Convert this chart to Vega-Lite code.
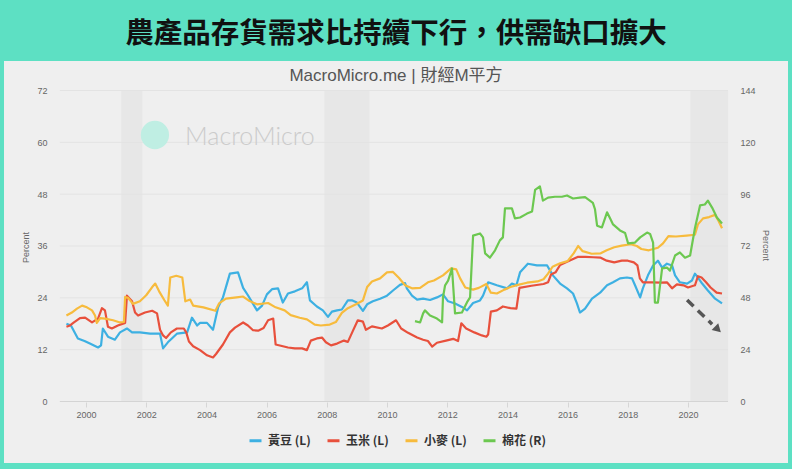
{
"$schema":"https://vega.github.io/schema/vega-lite/v6.json",
"width":784,"height":402,
"autosize":{"type":"none"},
"padding":{"left":4,"top":61,"right":4,"bottom":6},
"background":"#5de0c3",
"title":{"text":"農產品存貨需求比持續下行，供需缺口擴大","subtitle":"MacroMicro.me | 財經M平方","anchor":"middle","frame":"group","font":"Noto Sans CJK TC","fontSize":28.5,"fontWeight":"bold","color":"#111111","subtitleFont":"Liberation Sans, Noto Sans CJK TC","subtitleFontSize":17,"subtitleColor":"#555555","subtitlePadding":20,"offset":-23},
"config":{
 "view":{"fill":"#efefef","stroke":null},
 "font":"Liberation Sans",
 "axis":{"grid":false,"domain":false,"ticks":false,"labelColor":"#666666","labelFontSize":9,"titleColor":"#666666","titleFontSize":9,"titleFontWeight":"normal","labelFont":"Liberation Sans","titleFont":"Liberation Sans"},
 "axisBottom":{"offset":-61,"ticks":true,"tickSize":5,"tickColor":"#d6d6d6","labelPadding":3},
 "axisLeft":{"offset":-56,"tickSize":0,"labelPadding":13,"titleX":-35,"titleY":186,"titleAlign":"center","titleBaseline":"middle","titleAngle":-90},
 "axisRight":{"offset":-60,"tickSize":0,"labelPadding":12,"titleX":37,"titleY":184,"titleAlign":"center","titleBaseline":"middle","titleAngle":90},
 "legend":{"orient":"none","legendX":244,"legendY":372,"direction":"horizontal","symbolType":"stroke","symbolStrokeWidth":3,"symbolSize":144,"labelFontSize":12,"labelFontWeight":"bold","labelColor":"#333333","labelFont":"Noto Sans CJK TC","labelOffset":5,"columnPadding":10,"padding":0}
},
"datasets":{
 "bands":[{"start":2001.17,"end":2001.87},{"start":2007.92,"end":2009.42},{"start":2020.08,"end":2021.33}],
 "grid":[{"level":12},{"level":24},{"level":36},{"level":48},{"level":60},{"level":72}],
 "series":[
{"series":"黃豆 (L)","year":1999.35,"value":18.0},{"series":"黃豆 (L)","year":1999.5,"value":17.6},{"series":"黃豆 (L)","year":1999.73,"value":14.6},{"series":"黃豆 (L)","year":1999.95,"value":14.0},{"series":"黃豆 (L)","year":2000.13,"value":13.4},{"series":"黃豆 (L)","year":2000.4,"value":12.5},{"series":"黃豆 (L)","year":2000.5,"value":13.0},{"series":"黃豆 (L)","year":2000.56,"value":16.9},{"series":"黃豆 (L)","year":2000.73,"value":15.0},{"series":"黃豆 (L)","year":2000.96,"value":14.3},{"series":"黃豆 (L)","year":2001.13,"value":16.0},{"series":"黃豆 (L)","year":2001.36,"value":16.9},{"series":"黃豆 (L)","year":2001.53,"value":16.0},{"series":"黃豆 (L)","year":2001.79,"value":16.0},{"series":"黃豆 (L)","year":2002.13,"value":15.7},{"series":"黃豆 (L)","year":2002.46,"value":15.7},{"series":"黃豆 (L)","year":2002.56,"value":12.3},{"series":"黃豆 (L)","year":2002.72,"value":13.7},{"series":"黃豆 (L)","year":2003.02,"value":15.7},{"series":"黃豆 (L)","year":2003.36,"value":16.0},{"series":"黃豆 (L)","year":2003.52,"value":19.4},{"series":"黃豆 (L)","year":2003.69,"value":17.6},{"series":"黃豆 (L)","year":2003.79,"value":18.2},{"series":"黃豆 (L)","year":2004.02,"value":18.2},{"series":"黃豆 (L)","year":2004.22,"value":16.6},{"series":"黃豆 (L)","year":2004.39,"value":21.8},{"series":"黃豆 (L)","year":2004.55,"value":24.1},{"series":"黃豆 (L)","year":2004.78,"value":29.6},{"series":"黃豆 (L)","year":2005.05,"value":29.9},{"series":"黃豆 (L)","year":2005.22,"value":26.3},{"series":"黃豆 (L)","year":2005.38,"value":24.6},{"series":"黃豆 (L)","year":2005.68,"value":21.1},{"series":"黃豆 (L)","year":2005.85,"value":22.2},{"series":"黃豆 (L)","year":2006.01,"value":24.8},{"series":"黃豆 (L)","year":2006.18,"value":26.0},{"series":"黃豆 (L)","year":2006.38,"value":26.2},{"series":"黃豆 (L)","year":2006.54,"value":22.9},{"series":"黃豆 (L)","year":2006.71,"value":25.0},{"series":"黃豆 (L)","year":2006.94,"value":25.5},{"series":"黃豆 (L)","year":2007.18,"value":26.2},{"series":"黃豆 (L)","year":2007.34,"value":27.6},{"series":"黃豆 (L)","year":2007.44,"value":23.4},{"series":"黃豆 (L)","year":2007.67,"value":22.0},{"series":"黃豆 (L)","year":2007.87,"value":21.1},{"series":"黃豆 (L)","year":2008.04,"value":19.6},{"series":"黃豆 (L)","year":2008.17,"value":20.8},{"series":"黃豆 (L)","year":2008.34,"value":21.1},{"series":"黃豆 (L)","year":2008.5,"value":21.3},{"series":"黃豆 (L)","year":2008.7,"value":23.4},{"series":"黃豆 (L)","year":2008.85,"value":23.4},{"series":"黃豆 (L)","year":2009.0,"value":22.9},{"series":"黃豆 (L)","year":2009.2,"value":21.0},{"series":"黃豆 (L)","year":2009.34,"value":22.5},{"series":"黃豆 (L)","year":2009.53,"value":23.2},{"series":"黃豆 (L)","year":2009.77,"value":23.8},{"series":"黃豆 (L)","year":2010.0,"value":24.5},{"series":"黃豆 (L)","year":2010.2,"value":25.7},{"series":"黃豆 (L)","year":2010.43,"value":27.0},{"series":"黃豆 (L)","year":2010.6,"value":27.4},{"series":"黃豆 (L)","year":2010.66,"value":26.2},{"series":"黃豆 (L)","year":2010.83,"value":24.5},{"series":"黃豆 (L)","year":2011.0,"value":23.6},{"series":"黃豆 (L)","year":2011.2,"value":23.8},{"series":"黃豆 (L)","year":2011.43,"value":23.5},{"series":"黃豆 (L)","year":2011.66,"value":24.1},{"series":"黃豆 (L)","year":2011.86,"value":24.8},{"series":"黃豆 (L)","year":2012.03,"value":23.2},{"series":"黃豆 (L)","year":2012.26,"value":22.7},{"series":"黃豆 (L)","year":2012.49,"value":21.9},{"series":"黃豆 (L)","year":2012.66,"value":21.1},{"series":"黃豆 (L)","year":2012.86,"value":22.8},{"series":"黃豆 (L)","year":2013.09,"value":23.4},{"series":"黃豆 (L)","year":2013.19,"value":24.5},{"series":"黃豆 (L)","year":2013.36,"value":27.6},{"series":"黃豆 (L)","year":2013.65,"value":26.9},{"series":"黃豆 (L)","year":2013.99,"value":26.2},{"series":"黃豆 (L)","year":2014.15,"value":27.3},{"series":"黃豆 (L)","year":2014.3,"value":26.9},{"series":"黃豆 (L)","year":2014.42,"value":29.9},{"series":"黃豆 (L)","year":2014.68,"value":31.9},{"series":"黃豆 (L)","year":2014.98,"value":31.5},{"series":"黃豆 (L)","year":2015.32,"value":31.5},{"series":"黃豆 (L)","year":2015.51,"value":29.2},{"series":"黃豆 (L)","year":2015.75,"value":27.3},{"series":"黃豆 (L)","year":2015.98,"value":26.2},{"series":"黃豆 (L)","year":2016.18,"value":25.0},{"series":"黃豆 (L)","year":2016.31,"value":22.7},{"series":"黃豆 (L)","year":2016.41,"value":20.6},{"series":"黃豆 (L)","year":2016.58,"value":21.5},{"series":"黃豆 (L)","year":2016.81,"value":23.8},{"series":"黃豆 (L)","year":2017.08,"value":25.2},{"series":"黃豆 (L)","year":2017.31,"value":26.9},{"series":"黃豆 (L)","year":2017.51,"value":27.6},{"series":"黃豆 (L)","year":2017.74,"value":28.5},{"series":"黃豆 (L)","year":2017.97,"value":28.7},{"series":"黃豆 (L)","year":2018.14,"value":28.5},{"series":"黃豆 (L)","year":2018.24,"value":26.9},{"series":"黃豆 (L)","year":2018.41,"value":24.1},{"series":"黃豆 (L)","year":2018.5,"value":26.2},{"series":"黃豆 (L)","year":2018.67,"value":29.2},{"series":"黃豆 (L)","year":2018.84,"value":31.5},{"series":"黃豆 (L)","year":2019.0,"value":32.6},{"series":"黃豆 (L)","year":2019.14,"value":31.0},{"series":"黃豆 (L)","year":2019.3,"value":31.9},{"series":"黃豆 (L)","year":2019.47,"value":31.5},{"series":"黃豆 (L)","year":2019.57,"value":29.2},{"series":"黃豆 (L)","year":2019.73,"value":27.6},{"series":"黃豆 (L)","year":2019.97,"value":27.3},{"series":"黃豆 (L)","year":2020.13,"value":28.0},{"series":"黃豆 (L)","year":2020.23,"value":29.6},{"series":"黃豆 (L)","year":2020.33,"value":28.7},{"series":"黃豆 (L)","year":2020.47,"value":27.3},{"series":"黃豆 (L)","year":2020.66,"value":25.7},{"series":"黃豆 (L)","year":2020.9,"value":23.8},{"series":"黃豆 (L)","year":2021.13,"value":22.7},
{"series":"玉米 (L)","year":1999.35,"value":17.3},{"series":"玉米 (L)","year":1999.47,"value":17.6},{"series":"玉米 (L)","year":1999.6,"value":18.3},{"series":"玉米 (L)","year":1999.8,"value":19.3},{"series":"玉米 (L)","year":1999.97,"value":19.4},{"series":"玉米 (L)","year":2000.2,"value":18.3},{"series":"玉米 (L)","year":2000.4,"value":19.2},{"series":"玉米 (L)","year":2000.53,"value":21.6},{"series":"玉米 (L)","year":2000.63,"value":21.1},{"series":"玉米 (L)","year":2000.73,"value":17.3},{"series":"玉米 (L)","year":2000.86,"value":16.9},{"series":"玉米 (L)","year":2001.06,"value":17.6},{"series":"玉米 (L)","year":2001.3,"value":18.2},{"series":"玉米 (L)","year":2001.36,"value":24.5},{"series":"玉米 (L)","year":2001.53,"value":23.2},{"series":"玉米 (L)","year":2001.63,"value":20.6},{"series":"玉米 (L)","year":2001.73,"value":19.9},{"series":"玉米 (L)","year":2001.96,"value":20.6},{"series":"玉米 (L)","year":2002.2,"value":21.0},{"series":"玉米 (L)","year":2002.36,"value":20.4},{"series":"玉米 (L)","year":2002.46,"value":16.6},{"series":"玉米 (L)","year":2002.56,"value":15.3},{"series":"玉米 (L)","year":2002.66,"value":14.7},{"series":"玉米 (L)","year":2002.82,"value":16.0},{"series":"玉米 (L)","year":2003.02,"value":16.9},{"series":"玉米 (L)","year":2003.25,"value":16.9},{"series":"玉米 (L)","year":2003.33,"value":16.0},{"series":"玉米 (L)","year":2003.42,"value":13.9},{"series":"玉米 (L)","year":2003.56,"value":12.8},{"series":"玉米 (L)","year":2003.79,"value":11.9},{"series":"玉米 (L)","year":2004.02,"value":10.7},{"series":"玉米 (L)","year":2004.22,"value":10.2},{"series":"玉米 (L)","year":2004.32,"value":11.0},{"series":"玉米 (L)","year":2004.55,"value":13.2},{"series":"玉米 (L)","year":2004.78,"value":16.0},{"series":"玉米 (L)","year":2004.95,"value":17.1},{"series":"玉米 (L)","year":2005.22,"value":18.3},{"series":"玉米 (L)","year":2005.38,"value":17.6},{"series":"玉米 (L)","year":2005.55,"value":16.5},{"series":"玉米 (L)","year":2005.72,"value":16.4},{"series":"玉米 (L)","year":2005.9,"value":17.0},{"series":"玉米 (L)","year":2006.05,"value":18.8},{"series":"玉米 (L)","year":2006.22,"value":19.2},{"series":"玉米 (L)","year":2006.3,"value":13.2},{"series":"玉米 (L)","year":2006.54,"value":12.8},{"series":"玉米 (L)","year":2006.71,"value":12.5},{"series":"玉米 (L)","year":2006.94,"value":12.3},{"series":"玉米 (L)","year":2007.18,"value":12.3},{"series":"玉米 (L)","year":2007.34,"value":11.9},{"series":"玉米 (L)","year":2007.47,"value":14.1},{"series":"玉米 (L)","year":2007.67,"value":14.6},{"series":"玉米 (L)","year":2007.84,"value":14.8},{"series":"玉米 (L)","year":2007.97,"value":13.7},{"series":"玉米 (L)","year":2008.14,"value":13.0},{"series":"玉米 (L)","year":2008.34,"value":13.4},{"series":"玉米 (L)","year":2008.57,"value":14.1},{"series":"玉米 (L)","year":2008.7,"value":13.8},{"series":"玉米 (L)","year":2008.87,"value":16.4},{"series":"玉米 (L)","year":2009.03,"value":18.8},{"series":"玉米 (L)","year":2009.2,"value":18.5},{"series":"玉米 (L)","year":2009.3,"value":16.6},{"series":"玉米 (L)","year":2009.5,"value":17.4},{"series":"玉米 (L)","year":2009.83,"value":16.9},{"series":"玉米 (L)","year":2010.03,"value":17.6},{"series":"玉米 (L)","year":2010.3,"value":18.8},{"series":"玉米 (L)","year":2010.47,"value":16.9},{"series":"玉米 (L)","year":2010.7,"value":15.9},{"series":"玉米 (L)","year":2011.0,"value":14.8},{"series":"玉米 (L)","year":2011.2,"value":14.3},{"series":"玉米 (L)","year":2011.36,"value":14.0},{"series":"玉米 (L)","year":2011.5,"value":12.7},{"series":"玉米 (L)","year":2011.66,"value":13.6},{"series":"玉米 (L)","year":2011.96,"value":14.1},{"series":"玉米 (L)","year":2012.2,"value":14.5},{"series":"玉米 (L)","year":2012.36,"value":14.0},{"series":"玉米 (L)","year":2012.47,"value":18.1},{"series":"玉米 (L)","year":2012.63,"value":16.9},{"series":"玉米 (L)","year":2012.9,"value":16.0},{"series":"玉米 (L)","year":2013.15,"value":15.3},{"series":"玉米 (L)","year":2013.3,"value":15.0},{"series":"玉米 (L)","year":2013.36,"value":15.5},{"series":"玉米 (L)","year":2013.45,"value":20.8},{"series":"玉米 (L)","year":2013.65,"value":21.1},{"series":"玉米 (L)","year":2013.85,"value":22.0},{"series":"玉米 (L)","year":2014.1,"value":21.6},{"series":"玉米 (L)","year":2014.3,"value":21.5},{"series":"玉米 (L)","year":2014.4,"value":26.3},{"series":"玉米 (L)","year":2014.8,"value":26.8},{"series":"玉米 (L)","year":2015.2,"value":27.2},{"series":"玉米 (L)","year":2015.35,"value":27.6},{"series":"玉米 (L)","year":2015.45,"value":29.4},{"series":"玉米 (L)","year":2015.6,"value":29.9},{"series":"玉米 (L)","year":2015.75,"value":31.6},{"series":"玉米 (L)","year":2016.0,"value":32.4},{"series":"玉米 (L)","year":2016.35,"value":33.5},{"series":"玉米 (L)","year":2016.6,"value":33.5},{"series":"玉米 (L)","year":2016.85,"value":33.4},{"series":"玉米 (L)","year":2017.1,"value":33.3},{"series":"玉米 (L)","year":2017.3,"value":32.6},{"series":"玉米 (L)","year":2017.55,"value":32.2},{"series":"玉米 (L)","year":2017.8,"value":32.6},{"series":"玉米 (L)","year":2018.0,"value":32.6},{"series":"玉米 (L)","year":2018.2,"value":32.2},{"series":"玉米 (L)","year":2018.32,"value":31.5},{"series":"玉米 (L)","year":2018.4,"value":28.5},{"series":"玉米 (L)","year":2018.5,"value":27.6},{"series":"玉米 (L)","year":2018.8,"value":27.6},{"series":"玉米 (L)","year":2019.1,"value":27.5},{"series":"玉米 (L)","year":2019.3,"value":27.6},{"series":"玉米 (L)","year":2019.47,"value":26.2},{"series":"玉米 (L)","year":2019.63,"value":27.1},{"series":"玉米 (L)","year":2019.85,"value":26.9},{"series":"玉米 (L)","year":2020.0,"value":26.4},{"series":"玉米 (L)","year":2020.23,"value":26.9},{"series":"玉米 (L)","year":2020.33,"value":29.0},{"series":"玉米 (L)","year":2020.45,"value":28.7},{"series":"玉米 (L)","year":2020.6,"value":27.6},{"series":"玉米 (L)","year":2020.75,"value":26.4},{"series":"玉米 (L)","year":2020.95,"value":25.2},{"series":"玉米 (L)","year":2021.13,"value":25.0},
{"series":"小麥 (L)","year":1999.35,"value":19.9},{"series":"小麥 (L)","year":1999.53,"value":20.6},{"series":"小麥 (L)","year":1999.7,"value":21.5},{"series":"小麥 (L)","year":1999.87,"value":22.2},{"series":"小麥 (L)","year":2000.03,"value":21.8},{"series":"小麥 (L)","year":2000.2,"value":21.1},{"series":"小麥 (L)","year":2000.3,"value":19.9},{"series":"小麥 (L)","year":2000.36,"value":18.2},{"series":"小麥 (L)","year":2000.47,"value":19.3},{"series":"小麥 (L)","year":2000.63,"value":19.2},{"series":"小麥 (L)","year":2000.9,"value":18.8},{"series":"小麥 (L)","year":2001.13,"value":18.3},{"series":"小麥 (L)","year":2001.26,"value":18.4},{"series":"小麥 (L)","year":2001.3,"value":24.2},{"series":"小麥 (L)","year":2001.4,"value":24.0},{"series":"小麥 (L)","year":2001.56,"value":22.6},{"series":"小麥 (L)","year":2001.79,"value":23.2},{"series":"小麥 (L)","year":2002.0,"value":24.6},{"series":"小麥 (L)","year":2002.2,"value":26.5},{"series":"小麥 (L)","year":2002.3,"value":27.3},{"series":"小麥 (L)","year":2002.43,"value":25.5},{"series":"小麥 (L)","year":2002.6,"value":23.5},{"series":"小麥 (L)","year":2002.72,"value":22.2},{"series":"小麥 (L)","year":2002.8,"value":28.7},{"series":"小麥 (L)","year":2003.0,"value":29.1},{"series":"小麥 (L)","year":2003.2,"value":28.7},{"series":"小麥 (L)","year":2003.3,"value":23.2},{"series":"小麥 (L)","year":2003.46,"value":23.6},{"series":"小麥 (L)","year":2003.56,"value":22.2},{"series":"小麥 (L)","year":2003.9,"value":21.8},{"series":"小麥 (L)","year":2004.3,"value":21.0},{"series":"小麥 (L)","year":2004.42,"value":22.7},{"series":"小麥 (L)","year":2004.65,"value":23.8},{"series":"小麥 (L)","year":2005.0,"value":24.1},{"series":"小麥 (L)","year":2005.22,"value":24.3},{"series":"小麥 (L)","year":2005.4,"value":23.4},{"series":"小麥 (L)","year":2005.68,"value":22.5},{"series":"小麥 (L)","year":2006.05,"value":22.8},{"series":"小麥 (L)","year":2006.3,"value":21.8},{"series":"小麥 (L)","year":2006.6,"value":21.1},{"series":"小麥 (L)","year":2006.8,"value":20.0},{"series":"小麥 (L)","year":2007.1,"value":19.4},{"series":"小麥 (L)","year":2007.34,"value":19.0},{"series":"小麥 (L)","year":2007.6,"value":17.8},{"series":"小麥 (L)","year":2007.8,"value":17.6},{"series":"小麥 (L)","year":2008.1,"value":17.8},{"series":"小麥 (L)","year":2008.3,"value":18.4},{"series":"小麥 (L)","year":2008.5,"value":20.5},{"series":"小麥 (L)","year":2008.7,"value":21.6},{"series":"小麥 (L)","year":2008.97,"value":22.5},{"series":"小麥 (L)","year":2009.2,"value":23.4},{"series":"小麥 (L)","year":2009.34,"value":26.5},{"series":"小麥 (L)","year":2009.5,"value":27.8},{"series":"小麥 (L)","year":2009.77,"value":28.5},{"series":"小麥 (L)","year":2010.0,"value":29.9},{"series":"小麥 (L)","year":2010.2,"value":30.0},{"series":"小麥 (L)","year":2010.4,"value":28.6},{"series":"小麥 (L)","year":2010.6,"value":26.9},{"series":"小麥 (L)","year":2010.83,"value":26.2},{"series":"小麥 (L)","year":2011.1,"value":26.3},{"series":"小麥 (L)","year":2011.36,"value":27.6},{"series":"小麥 (L)","year":2011.56,"value":28.0},{"series":"小麥 (L)","year":2011.86,"value":29.2},{"series":"小麥 (L)","year":2012.13,"value":30.8},{"series":"小麥 (L)","year":2012.3,"value":30.6},{"series":"小麥 (L)","year":2012.43,"value":28.5},{"series":"小麥 (L)","year":2012.6,"value":26.4},{"series":"小麥 (L)","year":2012.86,"value":25.9},{"series":"小麥 (L)","year":2013.05,"value":26.3},{"series":"小麥 (L)","year":2013.3,"value":27.2},{"series":"小麥 (L)","year":2013.45,"value":25.2},{"series":"小麥 (L)","year":2013.65,"value":25.0},{"series":"小麥 (L)","year":2013.9,"value":25.9},{"series":"小麥 (L)","year":2014.1,"value":26.5},{"series":"小麥 (L)","year":2014.35,"value":27.0},{"series":"小麥 (L)","year":2014.65,"value":27.5},{"series":"小麥 (L)","year":2015.0,"value":27.8},{"series":"小麥 (L)","year":2015.2,"value":28.3},{"series":"小麥 (L)","year":2015.35,"value":29.6},{"series":"小麥 (L)","year":2015.5,"value":31.2},{"series":"小麥 (L)","year":2015.75,"value":32.0},{"series":"小麥 (L)","year":2016.0,"value":32.5},{"series":"小麥 (L)","year":2016.2,"value":34.3},{"series":"小麥 (L)","year":2016.35,"value":36.0},{"series":"小麥 (L)","year":2016.5,"value":34.8},{"series":"小麥 (L)","year":2016.8,"value":34.2},{"series":"小麥 (L)","year":2017.1,"value":34.3},{"series":"小麥 (L)","year":2017.3,"value":35.0},{"series":"小麥 (L)","year":2017.55,"value":35.7},{"series":"小麥 (L)","year":2017.8,"value":36.1},{"series":"小麥 (L)","year":2018.1,"value":36.4},{"series":"小麥 (L)","year":2018.3,"value":36.0},{"series":"小麥 (L)","year":2018.45,"value":35.3},{"series":"小麥 (L)","year":2018.7,"value":35.0},{"series":"小麥 (L)","year":2019.0,"value":35.6},{"series":"小麥 (L)","year":2019.17,"value":36.6},{"series":"小麥 (L)","year":2019.35,"value":38.3},{"series":"小麥 (L)","year":2019.6,"value":38.2},{"series":"小麥 (L)","year":2019.95,"value":38.4},{"series":"小麥 (L)","year":2020.23,"value":38.6},{"series":"小麥 (L)","year":2020.33,"value":41.0},{"series":"小麥 (L)","year":2020.5,"value":42.4},{"series":"小麥 (L)","year":2020.7,"value":42.7},{"series":"小麥 (L)","year":2020.9,"value":43.2},{"series":"小麥 (L)","year":2021.0,"value":42.0},{"series":"小麥 (L)","year":2021.13,"value":40.1},
{"series":"棉花 (R)","year":2010.93,"value":37.2},{"series":"棉花 (R)","year":2011.1,"value":36.6},{"series":"棉花 (R)","year":2011.2,"value":40.8},{"series":"棉花 (R)","year":2011.26,"value":42.2},{"series":"棉花 (R)","year":2011.43,"value":39.8},{"series":"棉花 (R)","year":2011.66,"value":38.4},{"series":"棉花 (R)","year":2011.83,"value":36.6},{"series":"棉花 (R)","year":2011.86,"value":48.2},{"series":"棉花 (R)","year":2011.93,"value":53.8},{"series":"棉花 (R)","year":2012.03,"value":56.0},{"series":"棉花 (R)","year":2012.16,"value":61.6},{"series":"棉花 (R)","year":2012.26,"value":40.8},{"series":"棉花 (R)","year":2012.49,"value":41.2},{"series":"棉花 (R)","year":2012.66,"value":46.0},{"series":"棉花 (R)","year":2012.76,"value":48.2},{"series":"棉花 (R)","year":2012.86,"value":76.8},{"series":"棉花 (R)","year":2013.09,"value":77.8},{"series":"棉花 (R)","year":2013.19,"value":76.0},{"series":"棉花 (R)","year":2013.26,"value":68.6},{"series":"棉花 (R)","year":2013.42,"value":66.6},{"series":"棉花 (R)","year":2013.59,"value":70.0},{"series":"棉花 (R)","year":2013.75,"value":74.6},{"series":"棉花 (R)","year":2013.85,"value":76.0},{"series":"棉花 (R)","year":2013.92,"value":89.4},{"series":"棉花 (R)","year":2014.15,"value":89.4},{"series":"棉花 (R)","year":2014.25,"value":84.8},{"series":"棉花 (R)","year":2014.42,"value":85.2},{"series":"棉花 (R)","year":2014.65,"value":87.0},{"series":"棉花 (R)","year":2014.82,"value":88.0},{"series":"棉花 (R)","year":2014.92,"value":98.0},{"series":"棉花 (R)","year":2015.08,"value":99.6},{"series":"棉花 (R)","year":2015.18,"value":93.0},{"series":"棉花 (R)","year":2015.35,"value":94.4},{"series":"棉花 (R)","year":2015.58,"value":94.8},{"series":"棉花 (R)","year":2015.81,"value":94.8},{"series":"棉花 (R)","year":2015.98,"value":95.4},{"series":"棉花 (R)","year":2016.18,"value":94.0},{"series":"棉花 (R)","year":2016.41,"value":94.4},{"series":"棉花 (R)","year":2016.58,"value":94.6},{"series":"棉花 (R)","year":2016.74,"value":93.0},{"series":"棉花 (R)","year":2016.84,"value":92.0},{"series":"棉花 (R)","year":2016.91,"value":89.0},{"series":"棉花 (R)","year":2016.98,"value":81.4},{"series":"棉花 (R)","year":2017.14,"value":80.6},{"series":"棉花 (R)","year":2017.31,"value":87.6},{"series":"棉花 (R)","year":2017.41,"value":84.8},{"series":"棉花 (R)","year":2017.51,"value":82.0},{"series":"棉花 (R)","year":2017.74,"value":79.2},{"series":"棉花 (R)","year":2017.91,"value":78.0},{"series":"棉花 (R)","year":2018.01,"value":73.2},{"series":"棉花 (R)","year":2018.24,"value":73.6},{"series":"棉花 (R)","year":2018.41,"value":76.0},{"series":"棉花 (R)","year":2018.64,"value":78.2},{"series":"棉花 (R)","year":2018.74,"value":77.6},{"series":"棉花 (R)","year":2018.84,"value":73.6},{"series":"棉花 (R)","year":2018.9,"value":45.8},{"series":"棉花 (R)","year":2019.0,"value":45.8},{"series":"棉花 (R)","year":2019.14,"value":61.6},{"series":"棉花 (R)","year":2019.3,"value":62.0},{"series":"棉花 (R)","year":2019.4,"value":60.6},{"series":"棉花 (R)","year":2019.57,"value":67.6},{"series":"棉花 (R)","year":2019.73,"value":69.0},{"series":"棉花 (R)","year":2019.9,"value":66.6},{"series":"棉花 (R)","year":2020.07,"value":67.6},{"series":"棉花 (R)","year":2020.23,"value":80.2},{"series":"棉花 (R)","year":2020.4,"value":90.8},{"series":"棉花 (R)","year":2020.56,"value":91.2},{"series":"棉花 (R)","year":2020.66,"value":93.0},{"series":"棉花 (R)","year":2020.8,"value":89.8},{"series":"棉花 (R)","year":2020.96,"value":85.2},{"series":"棉花 (R)","year":2021.13,"value":82.4}
 ]
},
"layer":[
 {"layer":[
  {"data":{"name":"bands"},"mark":{"type":"rect","color":"#e7e7e7"},
   "encoding":{"x":{"field":"start","type":"quantitative"},"x2":{"field":"end"},
   "y":{"datum":0,"type":"quantitative"},"y2":{"datum":72}}},
  {"data":{"name":"grid"},"mark":{"type":"rule","color":"#e3e3e3","strokeWidth":1},
   "encoding":{"y":{"field":"level","type":"quantitative"},
   "x":{"datum":1999.13,"type":"quantitative"},"x2":{"datum":2021.33}}},
  {"data":{"values":[{}]},"mark":{"type":"rule","color":"#d4d4d4","strokeWidth":1},
   "encoding":{"y":{"datum":0,"type":"quantitative"},
   "x":{"datum":1999.13,"type":"quantitative"},"x2":{"datum":2021.33}}},
  {"data":{"values":[{}]},"mark":{"type":"point","shape":"circle","filled":true,"color":"#bfeee3","size":800,"opacity":1},
   "encoding":{"x":{"datum":2002.29,"type":"quantitative"},
   "y":{"datum":61.7,"type":"quantitative"}}},
  {"data":{"values":[{}]},"mark":{"type":"text","text":"MacroMicro","align":"left","baseline":"middle","fontSize":25,"font":"Lato","fontWeight":300,"color":"#cbcbcb"},
   "encoding":{"x":{"datum":2003.29,"type":"quantitative"},
   "y":{"datum":61.2,"type":"quantitative"}}},
  {"data":{"name":"series"},"transform":[{"filter":"datum.series !== '棉花 (R)'"}],"mark":{"type":"line","strokeWidth":2.2,"strokeJoin":"round"},
   "encoding":{"x":{"field":"year","type":"quantitative","scale":{"domain":[1997.276,2023.322],"nice":false,"zero":false},"axis":{"values":[2000,2002,2004,2006,2008,2010,2012,2014,2016,2018,2020],"format":"d","title":null}},
   "y":{"field":"value","type":"quantitative","scale":{"domain":[-14.24,78.83],"nice":false,"zero":false},"axis":{"values":[0,12,24,36,48,60,72],"title":"Percent"}},
   "color":{"field":"series","type":"nominal","scale":{"domain":["黃豆 (L)","玉米 (L)","小麥 (L)","棉花 (R)"],"range":["#3db0e2","#e8503c","#f7bb3d","#6cc850"]},"legend":{"title":null}}}},
  {"data":{"values":[{}]},"mark":{"type":"rule","color":"#555555","strokeWidth":3.5,"strokeDash":[9,6]},
   "encoding":{"x":{"datum":2019.97,"type":"quantitative"},"x2":{"datum":2020.8},
   "y":{"datum":23.5,"type":"quantitative"},"y2":{"datum":17.9}}},
  {"data":{"values":[{}]},"mark":{"type":"point","shape":"triangle","filled":true,"color":"#555555","size":90,"angle":134,"opacity":1},
   "encoding":{"x":{"datum":2020.96,"type":"quantitative"},
   "y":{"datum":16.9,"type":"quantitative"}}}
 ]},
 {"data":{"name":"series"},"transform":[{"filter":"datum.series === '棉花 (R)'"}],"mark":{"type":"line","strokeWidth":2.2,"strokeJoin":"round"},
  "encoding":{"x":{"field":"year","type":"quantitative","scale":{"domain":[1997.276,2023.322],"nice":false,"zero":false},"axis":{"values":[2000,2002,2004,2006,2008,2010,2012,2014,2016,2018,2020],"format":"d","title":null}},
  "y":{"field":"value","type":"quantitative","scale":{"domain":[-28.48,157.66],"nice":false,"zero":false},"axis":{"values":[0,24,48,72,96,120,144],"title":"Percent","orient":"right"}},
  "color":{"field":"series","type":"nominal","scale":{"domain":["黃豆 (L)","玉米 (L)","小麥 (L)","棉花 (R)"],"range":["#3db0e2","#e8503c","#f7bb3d","#6cc850"]},"legend":{"title":null}}}}
],
"resolve":{"scale":{"y":"independent"}}
}
